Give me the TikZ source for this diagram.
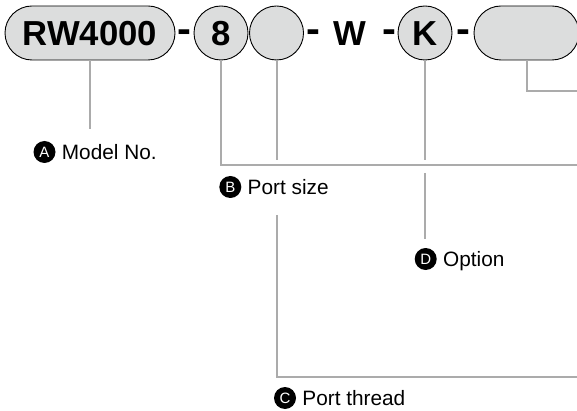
\documentclass[tikz,border=0pt]{standalone}
\usepackage{fontspec}
\usepackage{graphicx}
\setmainfont{Liberation Sans}
\usetikzlibrary{positioning}
\definecolor{partgray}{HTML}{DCDDDD}
\definecolor{leadgray}{HTML}{ABABAB}
\newcommand{\partfont}{\fontsize{34.7}{40}\selectfont\bfseries}
\newcommand{\labelfont}{\fontsize{20.8}{24}\selectfont}
\newcommand{\tagfont}{\fontsize{15}{18}\selectfont}
\newcommand{\partdash}{\raisebox{3.2pt}{\scalebox{1.2}[1.15]{-}}}

\begin{document}
\begin{tikzpicture}[x=1pt, y=-1pt,
  part/.style={draw=black, line width=0.9pt, fill=partgray, inner sep=0pt,
    minimum height=54pt, text height=25pt, text depth=0pt, font=\partfont},
  pill/.style={part, rounded corners=27pt},
  roundpart/.style={part, circle, minimum size=54pt},
  sep/.style={inner sep=0pt, text height=25pt, text depth=0pt, font=\partfont},
  lead/.style={draw=leadgray, line width=2pt},
  tag/.style={circle, fill=black, text=white, inner sep=0pt, minimum size=22pt, font=\tagfont},
  tagtext/.style={inner sep=0pt, text height=15pt, text depth=0pt, font=\labelfont}
]
\useasboundingbox (0,0) rectangle (577,411);
% part number
\node [pill, minimum width=170pt] (model) at (90,33){RW4000};
\node [sep] (dash1) at (184.5,33){\partdash};
\node [roundpart] (size) at (221,33){8};
\node [roundpart] (thread) at (276.5,33){};
\node [sep] (dash2) at (313,33){\partdash};
\node [sep] (w) at (350,33){W};
\node [sep] (dash3) at (389.5,33){\partdash};
\node [roundpart] (option) at (425,33){K};
\node [sep] (dash4) at (463,33){\partdash};
\node [pill, minimum width=105pt] (extra) at (526.5,33){};
%
% labels
\node [tag] (tagA) at (44.5,152){A};
\node [tagtext, right=6pt of tagA] (txtA){Model No.};
\node [tag] (tagB) at (230.3,187){B};
\node [tagtext, right=6pt of tagB] (txtB){Port size};
\node [tag] (tagD) at (425.7,259){D};
\node [tagtext, right=6pt of tagD] (txtD){Option};
\node [tag] (tagC) at (285,398){C};
\node [tagtext, right=6pt of tagC] (txtC){Port thread};
%
% leader lines
\coordinate (modelEnd) at (90,129);
\coordinate (sizeEnd) at (577,165);
\coordinate (threadGap1) at (276.5,160);
\coordinate (threadGap2) at (276.5,215);
\coordinate (threadEnd) at (577,377);
\coordinate (optionGap1) at (425,160);
\coordinate (optionGap2) at (425,173);
\coordinate (optionEnd) at (425,239);
\coordinate (extraEnd) at (577,91);

\draw [lead] (model.south) -- (modelEnd);
\draw [lead] (size.south) |- (sizeEnd);
\draw [lead] (thread.south) -- (threadGap1);
\draw [lead] (threadGap2) |- (threadEnd);
\draw [lead] (option.south) -- (optionGap1);
\draw [lead] (optionGap2) -- (optionEnd);
\draw [lead] (extra.south) |- (extraEnd);
\end{tikzpicture}
\end{document}
